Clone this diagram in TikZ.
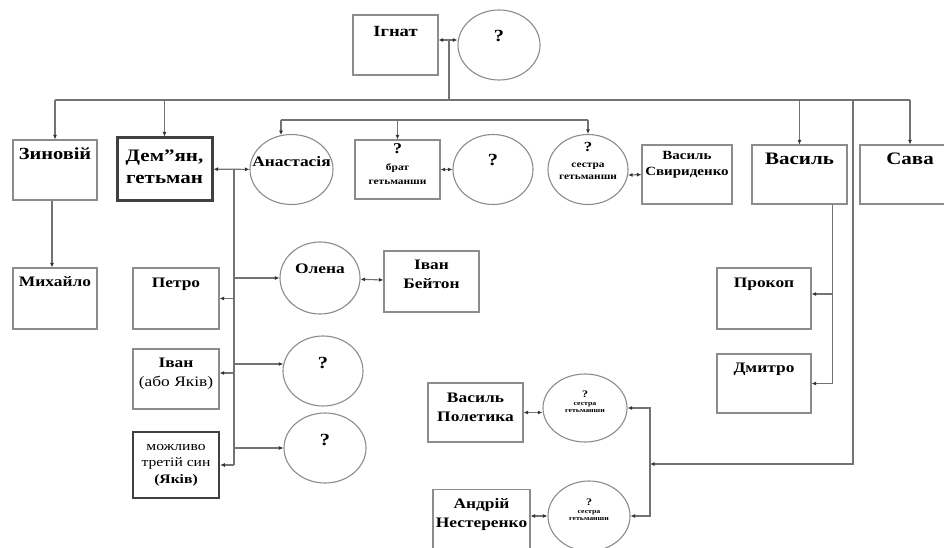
\documentclass[tikz,border=0pt]{standalone}
\usepackage{fontspec}
\setmainfont{Liberation Serif}[FakeStretch=1.2]
\usetikzlibrary{arrows.meta,shapes.geometric}
%текст у вузлі: підняття, рядки
\newcommand{\tx}[2]{\raisebox{#1}[0pt][0pt]{\makebox[0pt]{\begin{tabular}[t]{@{}c@{}}#2\end{tabular}}}}
\begin{document}
\begin{tikzpicture}[x=1pt,y=-1pt,
		osoba/.style={draw=black!45,line width=1.1pt,rectangle,inner sep=0pt,
			font=\fontsize{14.5}{19}\selectfont\bfseries},
		tovsta/.style={draw=black!75,line width=3pt},
		druzhyna/.style={draw=black!45,line width=1.1pt,ellipse,inner sep=0pt,
			minimum width=80pt,minimum height=70pt,font=\fontsize{14.5}{19}\selectfont\bfseries},
		liniya/.style={draw=black!55,line width=1.1pt},
		strilka/.style={-{Latex[length=4.5pt,width=4pt,color=black!80]}},
		dvistr/.style={{Latex[length=4.5pt,width=4pt,color=black!80]}-{Latex[length=4.5pt,width=4pt,color=black!80]}}]
	\useasboundingbox (0,0) rectangle (944,548);
	\clip (0,0) rectangle (944,548);
	\fill[white] (0,0) rectangle (944,548);
	%Ігнат і дружина
	\node[osoba,minimum width=85pt,minimum height=60pt,font=\fontsize{15.5}{19}\selectfont\bfseries] (ignat) at (395.5,45) {\tx{8pt}{Ігнат}};
	\node[druzhyna,minimum width=82pt] (ignatova) at (499,45) {\tx{3pt}{\fontsize{17}{19}\selectfont ?}};
	%діти Ігната
	\node[osoba,minimum width=84pt,minimum height=60pt,font=\fontsize{17}{19}\selectfont\bfseries] (zynoviy) at (55,170) {\tx{10pt}{Зиновій}};
	\node[osoba,tovsta,minimum width=95pt,minimum height=62pt,font=\fontsize{17.5}{21}\selectfont\bfseries] (demian) at (164.5,169) {\tx{7pt}{Дем\symbol{"22}ян,\\гетьман}};
	\node[osoba,minimum width=95pt,minimum height=59pt,font=\fontsize{17.5}{21}\selectfont\bfseries] (vasyl) at (799.5,174.5) {\tx{9.5pt}{Василь}};
	\node[osoba,minimum width=100pt,minimum height=59pt,font=\fontsize{17.5}{21}\selectfont\bfseries] (sava) at (910,174.5) {\tx{9.5pt}{Сава}};
	%родина гетьманші
	\node[druzhyna,minimum width=83pt] (anastasia) at (291.5,169.5) {\tx{3pt}{Анастасія}};
	\node[osoba,minimum width=85pt,minimum height=59pt,font=\fontsize{9.5}{13}\selectfont\bfseries] (brat) at (397.5,169.5) {\tx{15.5pt}{{\fontsize{15}{15}\selectfont ?}\\[4pt]брат\\гетьманши}};
	\node[druzhyna] (bratova) at (493,169.5) {\tx{4pt}{\fontsize{17}{19}\selectfont ?}};
	\node[druzhyna,font=\fontsize{9.5}{12}\selectfont\bfseries] (sestra) at (588,169.5) {\tx{17.5pt}{{\fontsize{14}{14}\selectfont ?}\\[4pt]сестра\\гетьманши}};
	\node[osoba,minimum width=90pt,minimum height=59pt,font=\fontsize{12.5}{16}\selectfont\bfseries] (svyrydenko) at (687,174.5) {\tx{14.5pt}{Василь\\Свириденко}};
	%онуки
	\node[osoba,minimum width=84pt,minimum height=61pt] (mykhailo) at (55,298.5) {\tx{12.5pt}{Михайло}};
	\node[osoba,minimum width=86pt,minimum height=61pt] (petro) at (176,298.5) {\tx{11.5pt}{Петро}};
	\node[druzhyna,minimum height=72pt] (olena) at (320,278) {\tx{5pt}{Олена}};
	\node[osoba,minimum width=95pt,minimum height=61pt] (beiton) at (431.5,281.5) {\tx{12.5pt}{Іван\\Бейтон}};
	\node[osoba,minimum width=86pt,minimum height=60pt] (ivan) at (176,379) {\tx{12pt}{Іван\\\mdseries(або Яків)}};
	\node[druzhyna] (ivanova) at (323,371) {\tx{3pt}{\fontsize{17}{19}\selectfont ?}};
	\node[osoba,tovsta,line width=2.5pt,minimum width=86pt,minimum height=66pt,font=\fontsize{13}{16.5}\selectfont\mdseries] (tretiy) at (176,465) {\tx{15pt}{можливо\\третій син\\\bfseries(Яків)}};
	\node[druzhyna,minimum width=82pt] (tretiova) at (325,448) {\tx{3pt}{\fontsize{17}{19}\selectfont ?}};
	\node[osoba,minimum width=94pt,minimum height=61pt] (prokop) at (764,298.5) {\tx{11.5pt}{Прокоп}};
	\node[osoba,minimum width=94pt,minimum height=59pt] (dmytro) at (764,383.5) {\tx{11.5pt}{Дмитро}};
	%сестри гетьманші
	\node[osoba,minimum width=95pt,minimum height=59pt] (poletyka) at (475.5,412.5) {\tx{10.5pt}{Василь\\Полетика}};
	\node[druzhyna,minimum width=84pt,minimum height=68pt,font=\fontsize{6.5}{6.5}\selectfont\bfseries] (sestra1) at (585,408) {\tx{11pt}{{\fontsize{10}{10}\selectfont ?}\\[2pt]сестра\\гетьманши}};
	\node[osoba,minimum width=97pt,minimum height=65pt] (nesterenko) at (481.5,522) {\tx{14pt}{Андрій\\Нестеренко}};
	\node[druzhyna,minimum width=82pt,font=\fontsize{6.5}{6.5}\selectfont\bfseries] (sestra2) at (589,516) {\tx{11pt}{{\fontsize{10}{10}\selectfont ?}\\[2pt]сестра\\гетьманши}};
	%зв'язки Ігната
	\coordinate (ig) at (449,40);
	\coordinate (bar) at (449,100);
	\draw[liniya,dvistr] (ignat.east|-ig) -- (ignatova.west|-ig);
	\draw[liniya] (ig) -- (bar);
	\draw[liniya] (zynoviy.north|-bar) -- (sava.north|-bar);
	\foreach \n in {zynoviy,demian,vasyl,sava}
		\draw[liniya,strilka] (\n.north|-bar) -- (\n.north);
	\draw[liniya,strilka] ([xshift=-3pt]zynoviy.south) -- ([xshift=-3pt]mykhailo.north);
	%гетьман і діти
	\coordinate (dm) at (234,169);
	\draw[liniya,dvistr] (demian) -- (anastasia);
	\draw[liniya] (dm) -- (dm|-tretiy.east);
	\draw[liniya,strilka] (dm|-olena) -- (olena.west);
	\draw[liniya,strilka] (dm|-petro) -- (petro.east);
	\draw[liniya,strilka] (dm|-ivanova.170) -- (ivanova.170);
	\draw[liniya,strilka] (dm|-ivan.east) ++(0,-6) -- ([yshift=6pt]ivan.east);
	\draw[liniya,strilka] (dm|-tretiova) -- (tretiova.west);
	\draw[liniya,strilka] (dm|-tretiy.east) -- (tretiy.east);
	\draw[liniya,dvistr] (olena) -- (beiton);
	%брати й сестри гетьманші
	\coordinate (sb) at (0,120);
	\draw[liniya] (anastasia.107|-sb) -- (sestra.north|-sb);
	\draw[liniya,strilka] (anastasia.107|-sb) -- (anastasia.107);
	\draw[liniya,strilka] (brat.north|-sb) -- (brat.north);
	\draw[liniya,strilka] (sestra.north|-sb) -- (sestra.north);
	\draw[liniya,dvistr] (brat) -- (bratova);
	\draw[liniya,dvistr] (sestra.-8) -- (svyrydenko.west);
	%Василь і сини
	\coordinate (vs) at ([xshift=-15pt]vasyl.south east);
	\draw[liniya,strilka] (vs) |- ([yshift=4.5pt]prokop.east);
	\draw[liniya,strilka] (vs) |- (dmytro.east);
	%інші сестри
	\coordinate (drop) at (853,100);
	\coordinate (sis) at (650,464);
	\draw[liniya,strilka] (drop) |- (sis);
	\draw[liniya,dvistr] (sestra1.east) -| (sis) |- (sestra2.east);
	\draw[liniya,dvistr] (poletyka.east) -- (sestra1.west|-poletyka.east);
	\draw[liniya,dvistr] (nesterenko.east|-sestra2.west) -- (sestra2.west);
\end{tikzpicture}
\end{document}
